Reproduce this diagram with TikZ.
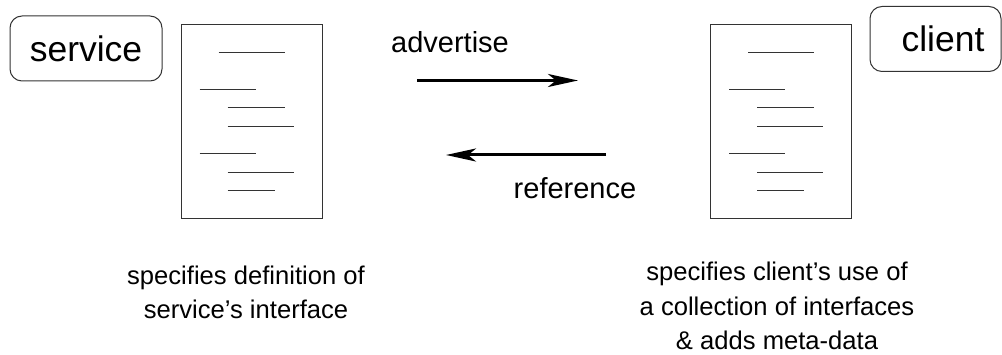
\documentclass[tikz,border=0pt]{standalone}
\usepackage{fontspec}
\setmainfont{Liberation Sans}
\usetikzlibrary{arrows.meta}
\begin{document}
\begin{tikzpicture}[x=1pt,y=-1pt,
  actor/.style={draw=black!80,line width=1pt,rounded corners=12pt,minimum height=65pt,font=\fontsize{35.5}{40}\selectfont},
  doc/.style={draw=black!80,line width=1pt,minimum width=141pt,minimum height=194pt},
  docline/.style={line width=1pt,black!80},
  flow/.style={line width=3pt,-{Stealth[length=30pt,width=13pt,inset=8pt]}},
  lbl/.style={font=\fontsize{29}{34}\selectfont},
  note/.style={font=\fontsize{25.6}{34.5}\selectfont,align=center,anchor=north}]
\useasboundingbox (0,0) rectangle (1002,355);
\node[actor,minimum width=152pt] (service) at (86,48.5) {service};
\node[actor,minimum width=131pt] (client) at (935.5,39) {\hspace*{15pt}client};
\node[doc] (ldoc) at (251.5,122) {};
\node[doc] (rdoc) at (781,122) {};
\foreach \d in {ldoc,rdoc}{
  \draw[docline] ([shift={(38,28)}]\d.north west) -- ++(66,0);
  \draw[docline] ([shift={(19,65)}]\d.north west) -- ++(56,0);
  \draw[docline] ([shift={(47,83)}]\d.north west) -- ++(57,0);
  \draw[docline] ([shift={(47,102)}]\d.north west) -- ++(66,0);
  \draw[docline] ([shift={(19,129)}]\d.north west) -- ++(56,0);
  \draw[docline] ([shift={(47,148)}]\d.north west) -- ++(66,0);
  \draw[docline] ([shift={(47,166)}]\d.north west) -- ++(47,0);
}
\coordinate (a1) at (417,80.5);
\coordinate (a2) at (578,80.5);
\coordinate (b1) at (606,155);
\coordinate (b2) at (446,155);
\draw[flow] (a1) -- (a2);
\draw[flow] (b1) -- (b2);
\node[lbl] (adv) at (450,42) {advertise};
\node[lbl] (ref) at (575,188) {reference};
\node[note] (lnote) at (246,262) {specifies definition of\\service’s interface};
\node[note] (rnote) at (777,258.5) {specifies client’s use of\\a collection of interfaces\\\& adds meta-data};
\end{tikzpicture}
\end{document}
